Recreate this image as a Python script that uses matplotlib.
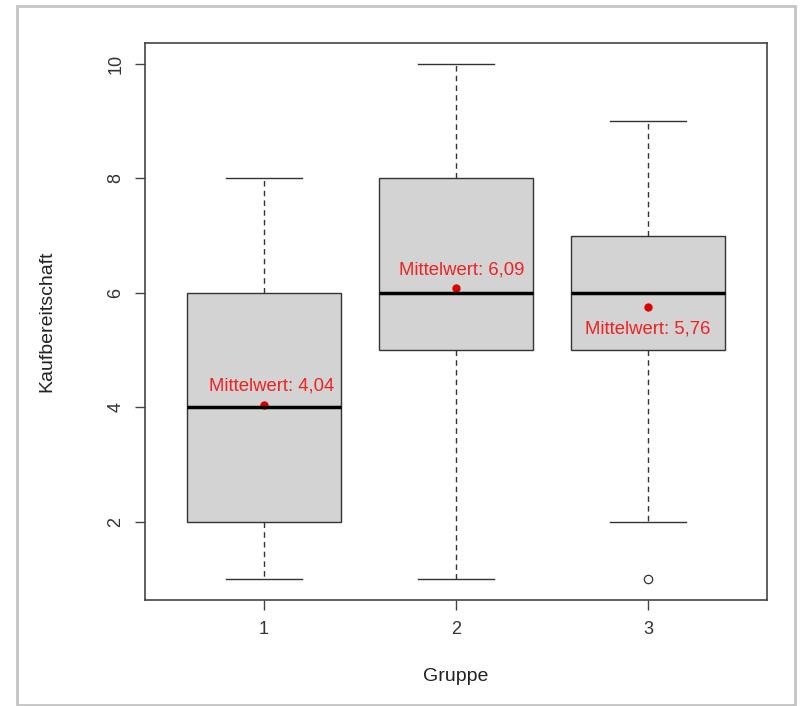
import matplotlib.pyplot as plt
from matplotlib.patches import Rectangle

plt.rcParams['font.family'] = ['Liberation Sans', 'DejaVu Sans']

# Boxplot statistics per Gruppe
groups = [1, 2, 3]
whisker_low = [1, 1, 2]
q1 = [2, 5, 5]
medians = [4, 6, 6]
q3 = [6, 8, 7]
whisker_high = [8, 10, 9]
outliers = [[], [], [1]]
means = [4.04, 6.09, 5.76]
mean_labels = ["Mittelwert: 4,04", "Mittelwert: 6,09", "Mittelwert: 5,76"]
label_x = [1.04, 2.03, 3.0]
label_y = [4.38, 6.40, 5.37]

stats = []
for i in range(len(groups)):
    stats.append(dict(med=medians[i], q1=q1[i], q3=q3[i],
                      whislo=whisker_low[i], whishi=whisker_high[i],
                      fliers=outliers[i], label=str(groups[i])))

fig = plt.figure(figsize=(8.03, 7.06), dpi=100)

# light frame around the whole picture
fig.patches.append(Rectangle((17 / 803, 1 / 706), 778 / 803, 699 / 706,
                             transform=fig.transFigure, fill=False,
                             edgecolor="#c4c4c4", linewidth=2.0))

ax = fig.add_axes([145 / 803, 1 - 600 / 706, 622 / 803, 557 / 706])
ax.bxp(stats, positions=groups, widths=0.8, patch_artist=True,
       boxprops=dict(facecolor="#d3d3d3", edgecolor="#333333", linewidth=1.0),
       medianprops=dict(color="black", linewidth=2.5),
       whiskerprops=dict(color="#333333", linestyle=(0, (4, 3)), linewidth=1.0),
       capprops=dict(color="#333333", linewidth=1.0),
       flierprops=dict(marker="o", markerfacecolor="white", markeredgecolor="#333333",
                       markersize=6, markeredgewidth=0.9),
       capwidths=0.4)

# mean points with labels
ax.plot(groups, means, "o", color="#dd0000", markersize=5, linestyle="none")
for i in range(len(groups)):
    ax.text(label_x[i], label_y[i], mean_labels[i], color="#ee2222",
            fontsize=13.3, ha="center", va="center")

ax.set_xlim(0.38, 3.62)
ax.set_ylim(0.64, 10.36)
ax.set_xticks(groups)
ax.set_xticklabels([str(g) for g in groups])
ax.set_yticks([2, 4, 6, 8, 10])
for lab in ax.get_yticklabels():
    lab.set_rotation(90)
    lab.set_va("center")
ax.tick_params(colors="#444444", labelcolor="#333333", labelsize=13,
               length=7, width=1.0, pad=8)
for s in ax.spines.values():
    s.set_color("#444444")
    s.set_linewidth(1.2)

ax.set_xlabel("Gruppe", fontsize=14, color="#222222", labelpad=22)
ax.set_ylabel("Kaufbereitschaft", fontsize=14, color="#222222", labelpad=37)

fig.savefig("out.png", dpi=100)
